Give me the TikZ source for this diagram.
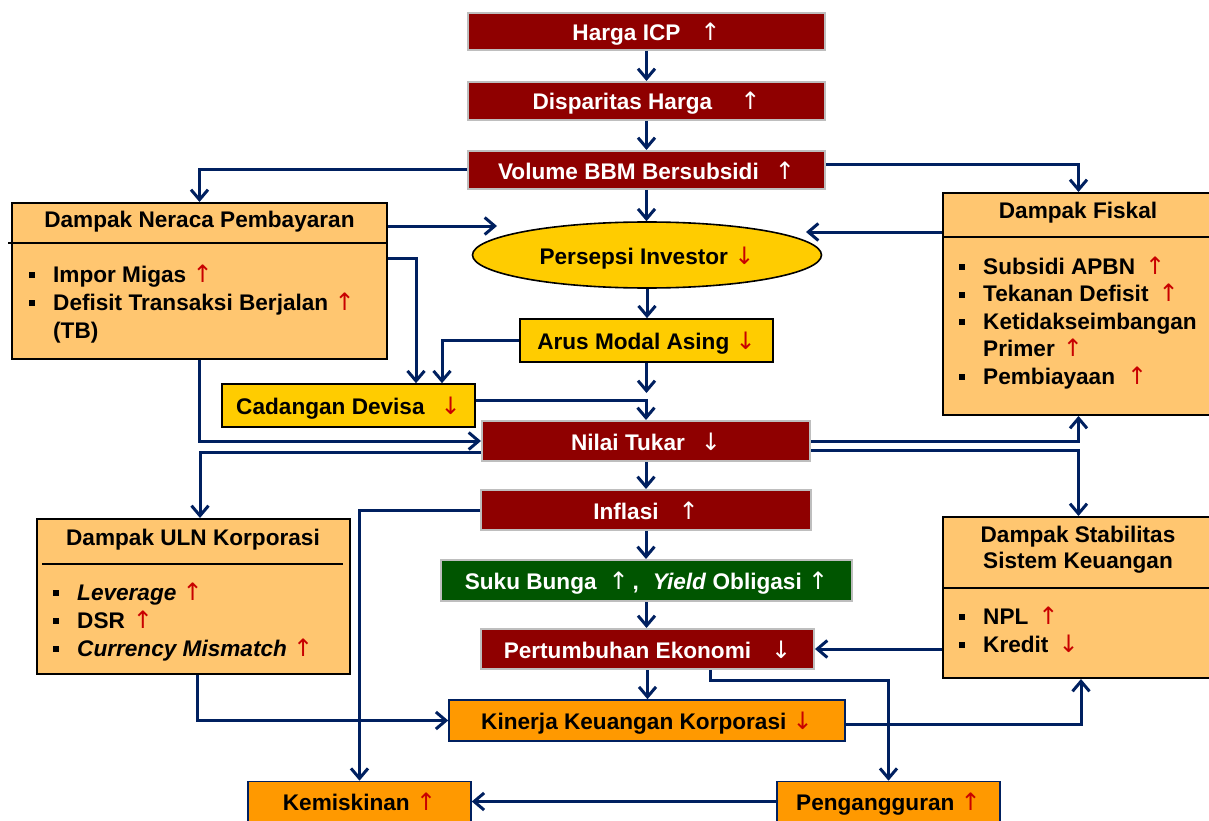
\documentclass[tikz,border=0pt]{standalone}
\usepackage{fontspec}
\setmainfont{Liberation Sans}
\newfontfamily\panahfont{DejaVu Sans}
\usepackage{tikz}
\usetikzlibrary{arrows.meta,shapes.geometric}

\definecolor{merah}{RGB}{143,0,0}
\definecolor{hijau}{RGB}{0,85,0}
\definecolor{emas}{RGB}{255,204,0}
\definecolor{jingga}{RGB}{255,153,0}
\definecolor{krem}{RGB}{255,198,112}
\definecolor{biru}{RGB}{0,32,96}
\definecolor{panah}{RGB}{200,0,0}
\definecolor{abu}{RGB}{190,190,190}

\newcommand\up{{\panahfont\mdseries\fontsize{24}{26}\selectfont ↑}}
\newcommand\dn{{\panahfont\mdseries\fontsize{24}{26}\selectfont ↓}}
\newcommand\rup{\textcolor{panah}{\up}}
\newcommand\rdn{\textcolor{panah}{\dn}}
\newcommand\sq{\rule[4pt]{6pt}{6pt}}

\tikzset{
  blok/.style={rectangle, inner sep=0pt, align=center, text height=18pt, text depth=0pt, font=\fontsize{22.6}{26}\selectfont\bfseries},
  merahbox/.style={blok, draw=abu, line width=2pt, fill=merah, text=white},
  hijaubox/.style={blok, draw=abu, line width=2pt, fill=hijau, text=white},
  emasbox/.style={blok, draw=black, line width=1.6pt, fill=emas},
  jinggabox/.style={blok, draw=biru, line width=1.6pt, fill=jingga},
  panel/.style={rectangle, draw=black, line width=2pt, fill=krem, inner sep=0pt},
  judul/.style={inner sep=0pt, align=center, font=\fontsize{22.6}{26}\selectfont\bfseries},
  daftar/.style={inner sep=0pt, anchor=north west, font=\fontsize{22.6}{#1}\selectfont\bfseries},
  daftar/.default=28,
  arr/.style={draw=biru, line width=3pt, -{Straight Barb[length=10pt,width=17pt]}}
}

\begin{document}
\begin{tikzpicture}[x=1pt,y=-1pt]
\useasboundingbox (0,0) rectangle (1209,821);

\node[merahbox, minimum width=357pt, minimum height=37pt] (icp) at (646.5,31.5) {Harga ICP\hspace{20pt}\up};
\node[merahbox, minimum width=357pt, minimum height=38pt] (disparitas) at (646.5,101) {Disparitas Harga\hspace{28pt}\up};
\node[merahbox, minimum width=357pt, minimum height=38pt] (volume) at (646.5,170) {Volume BBM Bersubsidi\hspace{16pt}\up};
\node[ellipse, draw=black, line width=1.6pt, fill=emas, minimum width=349pt, minimum height=66pt, inner sep=0pt, text height=18pt, text depth=0pt, font=\fontsize{22.6}{26}\selectfont\bfseries] (persepsi) at (647,255) {Persepsi Investor \rdn};
\node[emasbox, minimum width=253pt, minimum height=43pt] (arus) at (646.5,340.5) {Arus Modal Asing \rdn};
\node[emasbox, minimum width=253pt, minimum height=43pt] (cadangan) at (348.5,405.5) {Cadangan Devisa\hspace{16pt}\rdn};
\node[merahbox, minimum width=328pt, minimum height=40pt] (nilai) at (646,441) {Nilai Tukar\hspace{16pt}\dn};
\node[merahbox, minimum width=330pt, minimum height=40pt] (inflasi) at (646,510) {Inflasi\hspace{20pt}\up};
\node[hijaubox, minimum width=411pt, minimum height=41pt] (suku) at (646.5,580.5) {Suku Bunga\hspace{12pt}\up\,,\hspace{14pt}\textit{Yield} Obligasi \up};
\node[merahbox, minimum width=333pt, minimum height=40pt] (tumbuh) at (647.5,649) {Pertumbuhan Ekonomi\hspace{20pt}\dn};
\node[jinggabox, minimum width=396pt, minimum height=41pt] (kinerja) at (647,720.5) {Kinerja Keuangan Korporasi \rdn};
\node[jinggabox, minimum width=223pt, minimum height=40pt] (miskin) at (359.5,801.5) {Kemiskinan \rup};
\node[jinggabox, minimum width=223pt, minimum height=40pt] (nganggur) at (888.5,801.5) {Pengangguran \rup};

\node[panel, minimum width=375pt, minimum height=156pt] (neraca) at (199.5,281) {};
\node[judul] (neracajudul) at (199.5,222) {Dampak Neraca Pembayaran};
\draw[line width=1.6pt] (8,243) -- (neraca.east |- 0,243);
\node[daftar] (neracaisi) at (29,262.4) {\begin{tabular}{@{}l@{\hspace{18pt}}l@{}}
\sq & Impor Migas \rup\\
\sq & Defisit Transaksi Berjalan \rup\\
 & (TB)
\end{tabular}};

\node[panel, minimum width=271pt, minimum height=222pt] (fiskal) at (1078.5,304) {};
\node[judul] (fiskaljudul) at (1078,213) {Dampak Fiskal};
\draw[line width=1.6pt] (fiskal.west |- 0,237) -- (fiskal.east |- 0,237);
\node[daftar=27.5] (fiskalisi) at (959,254.8) {\begin{tabular}{@{}l@{\hspace{18pt}}l@{}}
\sq & Subsidi APBN\hspace{10pt}\rup\\
\sq & Tekanan Defisit\hspace{10pt}\rup\\
\sq & Ketidakseimbangan\\
 & Primer\hspace{8pt}\rup\\
\sq & Pembiayaan\hspace{12pt}\rup
\end{tabular}};

\node[panel, minimum width=313pt, minimum height=155pt] (uln) at (193.5,596.5) {};
\node[judul] (ulnjudul) at (193,540) {Dampak ULN Korporasi};
\draw[line width=1.6pt] (42,564) -- (343,564);
\node[daftar] (ulnisi) at (53,580.4) {\begin{tabular}{@{}l@{\hspace{18pt}}l@{}}
\sq & \textit{Leverage} \rup\\
\sq & DSR\hspace{8pt}\rup\\
\sq & \textit{Currency Mismatch} \rup
\end{tabular}};

\node[panel, minimum width=271pt, minimum height=161pt] (stabil) at (1078.5,597.5) {};
\node[judul] (stabiljudul) at (1078,550) {Dampak Stabilitas\\Sistem Keuangan};
\draw[line width=1.6pt] (stabil.west |- 0,588) -- (stabil.east |- 0,588);
\node[daftar] (stabilisi) at (959,604.4) {\begin{tabular}{@{}l@{\hspace{18pt}}l@{}}
\sq & NPL\hspace{10pt}\rup\\
\sq & Kredit\hspace{10pt}\rdn
\end{tabular}};

\foreach \a/\b in {icp/disparitas, disparitas/volume, volume/persepsi, persepsi/arus, nilai/inflasi, inflasi/suku, suku/tumbuh, tumbuh/kinerja}
  \draw[arr] (\a.south) -- (\a.south |- \b.north);

\coordinate (persepsikiri) at (497,226);
\coordinate (persepsikanan) at (806,232);
\coordinate (arusbawah) at (646.5,393);

\draw[arr] (volume.west) -| (neraca.north);
\draw[arr] ([yshift=5pt]volume.east) -| (fiskal.north);
\draw[arr] (neraca.east |- persepsikiri) -- (persepsikiri);
\draw[arr] (fiskal.west |- persepsikanan) -- (persepsikanan);
\draw[arr] (arus.west) -| (442,0 |- cadangan.north);
\draw[arr] (neraca.east |- 0,258) -| (416,0 |- cadangan.north);
\draw[arr] (arus.south) -- (arusbawah);
\draw[arr] ([yshift=5.5pt]cadangan.east) -| (nilai.north);
\draw[arr] (neraca.south) |- (nilai.west);
\draw[arr] ([yshift=-11pt]nilai.west) -| (200,0 |- uln.north);
\draw[arr] (nilai.east) -| (fiskal.south);
\draw[arr] ([yshift=-9pt]nilai.east) -| (stabil.north);
\draw[arr] (inflasi.west) -| (miskin.north);
\draw[arr] (stabil.west |- tumbuh.east) -- (tumbuh.east);
\draw[arr] (710,0 |- tumbuh.south) -- ++(0,10) -| (nganggur.north);
\draw[arr] (197,0 |- uln.south) |- (kinerja.west);
\draw[arr] ([yshift=-3.5pt]kinerja.east) -| (1081,0 |- stabil.south);
\draw[arr] (nganggur.west) -- (miskin.east);
\end{tikzpicture}
\end{document}
